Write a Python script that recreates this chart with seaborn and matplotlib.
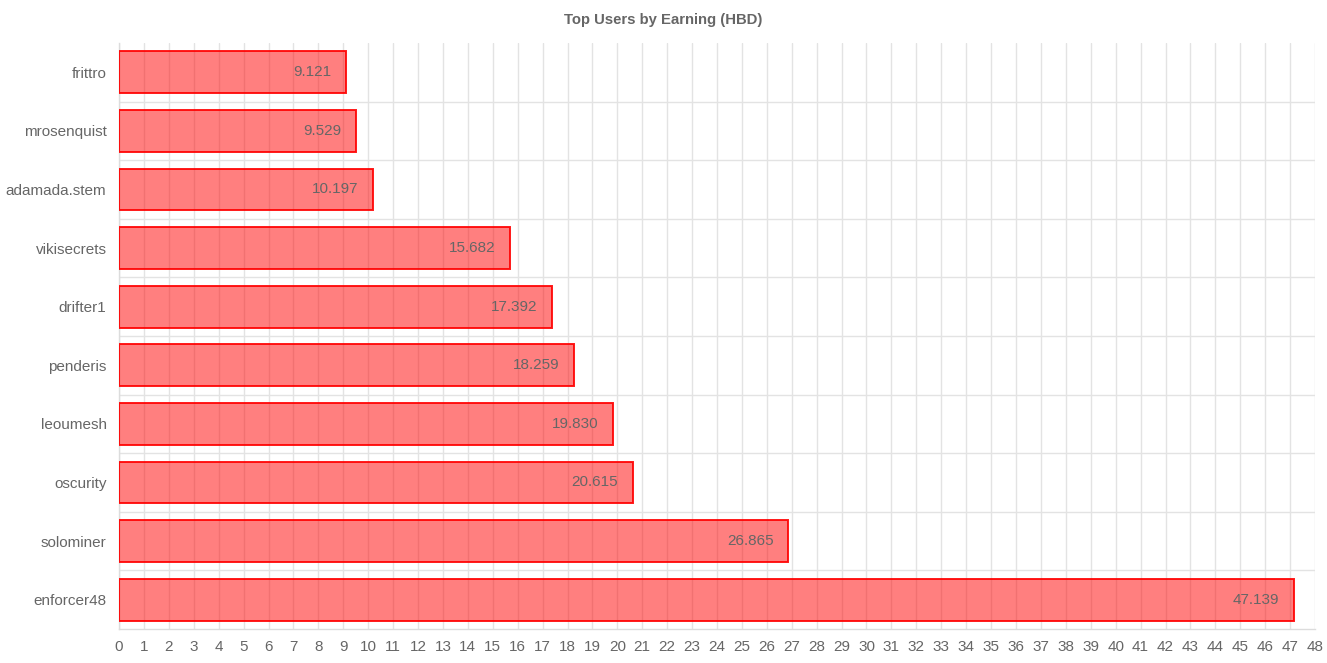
import matplotlib
matplotlib.use("Agg")
import matplotlib.pyplot as plt
import seaborn as sns
import pandas as pd
import numpy as np
from matplotlib.ticker import MultipleLocator, FixedLocator

users = ["frittro", "mrosenquist", "adamada.stem", "vikisecrets", "drifter1",
         "penderis", "leoumesh", "oscurity", "solominer", "enforcer48"]
earnings = [9.121, 9.529, 10.197, 15.682, 17.392, 18.259, 19.830, 20.615, 26.865, 47.139]
title = "Top Users by Earning (HBD)"

df = pd.DataFrame({"user": users, "hbd": earnings})

sns.set_theme(style="white")
plt.rcParams['font.family'] = ['Liberation Sans', 'DejaVu Sans']
plt.rcParams['grid.alpha'] = 1.0

fig = plt.figure(figsize=(13.27, 6.63), dpi=100)
ax = fig.add_axes([119/1327, 1 - 629/663, (1315 - 119)/1327, (629 - 43)/663])
ax.set_axisbelow(True)

sns.barplot(data=df, x="hbd", y="user", orient="h", ax=ax, width=0.71,
            color=(1, 0, 0, 0.5), edgecolor=(1, 0, 0, 0.9), linewidth=1.4,
            zorder=3, saturation=1)
for p in ax.patches:
    p.set_facecolor((1, 0, 0, 0.5))

grid_c = "#e3e3e3"
ax.set_xlim(0, 48)
ax.set_ylim(len(users) - 0.5, -0.5)
ax.xaxis.set_major_locator(MultipleLocator(1))
ax.grid(axis="x", color=grid_c, linewidth=1)
ax.yaxis.set_minor_locator(FixedLocator(np.arange(0.5, len(users) - 0.5, 1)))
ax.grid(axis="y", which="minor", color=grid_c, linewidth=1)
ax.tick_params(axis="y", which="minor", length=9, color=grid_c, width=1)
ax.tick_params(axis="y", which="major", length=0, pad=9, labelsize=11, labelcolor="#666666")
ax.tick_params(axis="x", length=0, pad=8, labelsize=11, labelcolor="#666666")
ax.set_xlabel("")
ax.set_ylabel("")
for s in ["top", "right"]:
    ax.spines[s].set_visible(False)
for s in ["left", "bottom"]:
    ax.spines[s].set_color("#dcdcdc")
    ax.spines[s].set_linewidth(1)

for i, v in enumerate(earnings):
    ax.annotate(f"{v:.3f}", xy=(v, i), xytext=(-10.5, 0), textcoords="offset points",
                ha="right", va="center", fontsize=11, color="#666666", zorder=4)

fig.text(0.5, 1 - 20/663, title, ha="center", va="center", fontsize=10.7,
         fontweight="bold", color="#666666")

fig.savefig("out.png", dpi=100)
